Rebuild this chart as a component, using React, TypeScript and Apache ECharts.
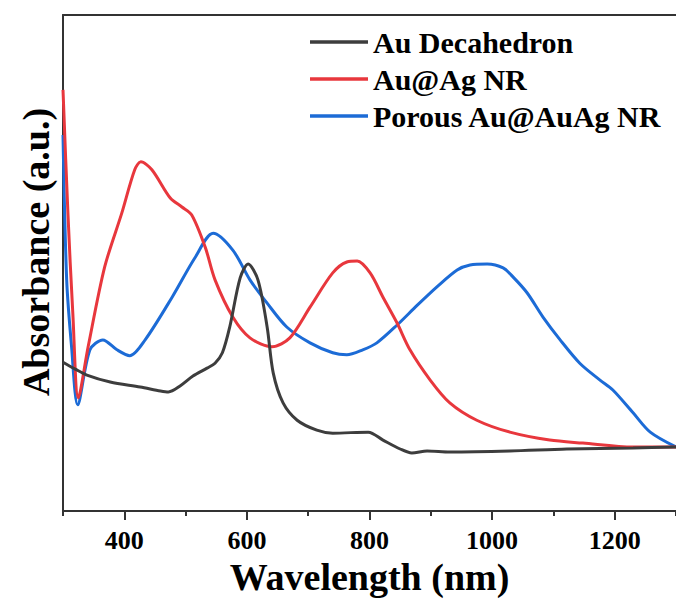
import React, { useEffect, useRef } from "react";
import * as echarts from "echarts";

const FONT = '"Liberation Serif", "Times New Roman", serif';

const seriesNames = ["Au Decahedron", "Au@Ag NR", "Porous Au@AuAg NR"];
const seriesColors = ["#3d3d3d", "#e8373d", "#1c6bd6"];

const decaNm = [300, 320, 339, 377, 426, 459, 472, 491, 512, 535, 548, 560, 572, 589, 602, 618, 633, 643, 659, 682, 714, 740, 798, 822, 850, 869, 894, 931, 1029, 1122, 1230, 1300];
const decaAbs = [30.0, 28.6, 27.4, 26.0, 25.0, 24.2, 24.0, 25.2, 27.2, 28.8, 29.8, 31.9, 37.1, 47.0, 49.8, 46.6, 37.1, 27.8, 21.8, 18.3, 16.3, 15.7, 15.9, 14.3, 12.5, 11.7, 12.1, 11.9, 12.1, 12.5, 12.7, 12.9];

const agNm = [300, 308, 316, 325, 341, 368, 396, 417, 427, 445, 475, 494, 510, 532, 548, 577, 605, 641, 670, 703, 740, 763, 780, 801, 822, 845, 866, 899, 931, 975, 1029, 1094, 1148, 1230, 1300];
const agAbs = [84.9, 60.1, 39.9, 22.8, 33.1, 49.2, 60.1, 68.8, 70.4, 68.8, 63.1, 61.3, 59.7, 53.2, 46.6, 39.1, 34.9, 33.1, 34.9, 41.1, 48.0, 50.2, 50.4, 48.0, 43.1, 37.9, 32.5, 26.4, 21.8, 18.3, 15.9, 14.3, 13.7, 12.9, 12.9];

const porousNm = [300, 306, 314, 324, 344, 365, 388, 409, 434, 478, 515, 545, 577, 605, 633, 665, 703, 740, 763, 789, 812, 845, 878, 910, 943, 964, 992, 1018, 1034, 1057, 1083, 1111, 1143, 1176, 1197, 1230, 1258, 1300];
const porousAbs = [75.8, 46.6, 33.1, 21.4, 32.5, 34.5, 32.5, 31.3, 34.5, 43.1, 51.0, 56.0, 52.6, 46.6, 41.9, 37.1, 33.9, 31.9, 31.5, 32.5, 33.9, 37.5, 41.5, 45.2, 48.6, 49.6, 49.8, 49.0, 47.2, 44.0, 39.1, 34.5, 29.8, 26.4, 24.4, 19.8, 15.9, 12.9];

const majorTicks = [400, 600, 800, 1000, 1200];
const minorTicks = [300, 500, 700, 900, 1100, 1300];

const pairs = (xs: number[], ys: number[]) => xs.map((x, i) => [x, ys[i]]);

export default function App() {
  const ref = useRef<HTMLDivElement>(null);
  useEffect(() => {
    document.body.style.margin = "0";
    const chart = echarts.init(ref.current!, null, { renderer: "svg" });
    const axisLineStyle = { color: "#333333", width: 2 };
    const series = [
      pairs(decaNm, decaAbs),
      pairs(agNm, agAbs),
      pairs(porousNm, porousAbs),
    ].map((d, i) => ({
      name: seriesNames[i],
      type: "line",
      data: d,
      xAxisIndex: 0,
      yAxisIndex: 0,
      symbol: "none",
      showSymbol: false,
      smooth: 0.3,
      lineStyle: { color: seriesColors[i], width: 3 },
      itemStyle: { color: seriesColors[i] },
      z: 3 - i,
    }));
    chart.setOption({
      animation: false,
      backgroundColor: "#ffffff",
      grid: { left: 63, right: 0, top: 15, bottom: 90, containLabel: false },
      legend: {
        orient: "vertical",
        left: 305,
        top: 22,
        icon: "rect",
        itemWidth: 58,
        itemHeight: 3.5,
        itemGap: 7,
        data: seriesNames,
        textStyle: {
          fontFamily: FONT,
          fontWeight: "bold",
          fontSize: 30,
          color: "#000000",
          lineHeight: 30,
        },
      },
      xAxis: [
        {
          type: "value",
          min: 300,
          max: 1300,
          interval: 100,
          position: "bottom",
          name: "Wavelength (nm)",
          nameLocation: "middle",
          nameGap: 45,
          nameTextStyle: { fontFamily: FONT, fontWeight: "bold", fontSize: 38, color: "#000000" },
          axisLine: { show: true, lineStyle: axisLineStyle },
          axisTick: { show: true, length: 5, inside: false, customValues: minorTicks, lineStyle: axisLineStyle },
          axisLabel: {
            show: true,
            customValues: majorTicks,
            formatter: (v: number) => String(v),
            margin: 16,
            fontFamily: FONT,
            fontWeight: "bold",
            fontSize: 26,
            color: "#000000",
          },
          splitLine: { show: false },
        },
        {
          type: "value",
          min: 300,
          max: 1300,
          interval: 100,
          position: "bottom",
          axisLine: { show: false },
          axisTick: { show: true, length: 9, inside: false, customValues: majorTicks, lineStyle: axisLineStyle },
          axisLabel: { show: false },
          splitLine: { show: false },
        },
        {
          type: "value",
          min: 300,
          max: 1300,
          position: "top",
          axisLine: { show: true, lineStyle: axisLineStyle },
          axisTick: { show: false },
          axisLabel: { show: false },
          splitLine: { show: false },
        },
      ],
      yAxis: {
        type: "value",
        min: 0,
        max: 100,
        name: "Absorbance (a.u.)",
        nameLocation: "middle",
        nameGap: 8,
        nameTextStyle: {
          fontFamily: FONT,
          fontWeight: "bold",
          fontSize: 38,
          color: "#000000",
          padding: [0, 0, 0, 22],
        },
        axisLine: { show: true, lineStyle: axisLineStyle },
        axisTick: { show: false },
        axisLabel: { show: false },
        splitLine: { show: false },
      },
      series,
    });
    return () => chart.dispose();
  }, []);
  return <div ref={ref} style={{ width: 676, height: 601 }} />;
}
